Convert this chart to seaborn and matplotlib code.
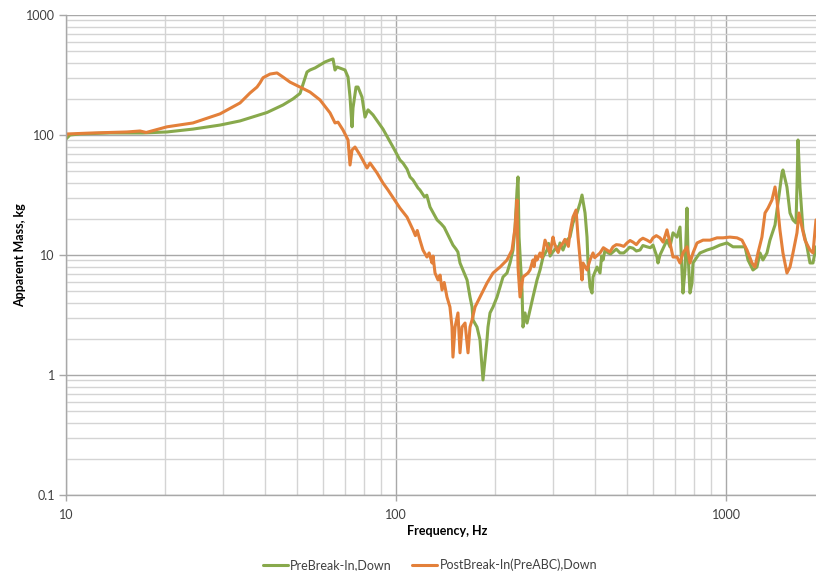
import numpy as np
import pandas as pd
import matplotlib
matplotlib.use("Agg")
import matplotlib.pyplot as plt
from matplotlib.ticker import LogLocator, FixedLocator, NullFormatter
import seaborn as sns

# Apparent mass measurements: frequency in Hz, mass in kg
pre_freq = [10.0, 10.28, 11.03, 13.59, 17.12, 20.23, 24.25, 29.29, 33.68, 36.11, 40.66, 45.46, 48.74, 51.19,
            53.74, 54.88, 56.83, 58.85, 60.94, 63.10, 64.44, 65.35, 66.27, 70.07, 71.55, 72.56, 73.58, 74.09,
            75.66, 76.71, 78.89, 80.56, 82.27, 85.19, 91.32, 97.93,
            102.8, 105.0, 108.0, 110.3, 112.6, 116.6, 118.2, 122.0, 124.0, 126.8, 133.2, 137.0, 140.0,
            142.7, 148.8, 152.0, 154.0, 156.3, 164.2, 167.6, 170.0, 171.2, 176.0, 179.7, 182.3, 183.5,
            186.1, 188.7, 190.0, 192.7, 196.8, 202.4, 206.7, 211.0, 217.0, 221.6, 226.3, 229.5, 232.7,
            234.3, 236.0, 240.9, 242.6, 246.0, 249.5,
            254.7, 260.1, 267.5, 273.2, 279.0, 286.9, 290.0, 293.0, 297.0, 307.6, 310.0, 314.0, 320.7,
            329.7, 336.7, 343.8, 353.7, 361.2, 366.2,
            374.0, 379.2, 381.9, 387.2, 392.7, 395.4, 406.6, 415.2, 420.0, 424.0, 430.0, 439.0, 447.0,
            454.6, 465.0, 477.3, 490.0, 501.2, 510.0, 522.6, 535.0, 548.7, 560.0, 576.2, 590.0, 600.9,
            617.9, 622.2, 631.0, 662.5, 676.6, 690.9, 710.5, 725.5, 740.8, 751.2, 761.8, 767.1, 777.9,
            788.9, 794.3, 817.0, 834.3, 876.0, 913.4, 959.0, 1007,
            1050, 1103, 1142, 1166, 1207, 1241, 1268, 1294, 1331, 1359, 1408, 1437, 1478, 1488, 1530,
            1563, 1596, 1630, 1641, 1653, 1676, 1711, 1760, 1797, 1835, 1874]
pre_mass = [92.6, 100, 102, 104, 104, 106, 112, 121, 131, 139, 154, 178, 200, 222,
            335, 348, 362, 383, 406, 422, 430, 348, 369, 348, 304, 207, 117, 168,
            251, 251, 207, 141, 162, 147, 112, 79.4,
            61.9, 58.4, 52.0, 44.7, 42.2, 36.2, 34.8, 30.5, 31.5, 25.1, 19.6, 18.2, 17.0,
            15.3, 12.1, 11.2, 10.6, 8.58, 6.19, 4.47, 3.69, 2.87, 2.51, 1.96, 1.17, 0.909,
            1.33, 1.96, 2.51, 3.29, 3.69, 4.47, 5.41, 6.56, 7.08, 8.58, 11.0, 17.1, 34.8,
            44.7, 14.1, 5.11, 2.51, 3.29, 2.71,
            3.48, 4.47, 6.19, 7.50, 9.62, 11.0, 12.5, 9.8, 10.4, 11.7, 10.8, 12.6, 11.0,
            13.3, 14.1, 18.5, 22.4, 27.1, 31.6,
            22.4, 14.1, 8.58, 5.41, 4.82, 6.56, 7.94, 7.08, 9.8, 9.09, 11.0, 10.4, 10.2,
            10.6, 11.2, 10.4, 10.4, 11.0, 11.6, 11.4, 10.8, 11.0, 12.0, 11.7, 11.5, 12.1,
            9.62, 8.58, 10.0, 13.3, 11.7, 15.3, 14.1, 17.1, 4.82, 7.50, 24.6, 10.4, 4.82,
            5.84, 8.58, 9.62, 10.4, 11.0, 11.4, 12.1, 12.6,
            11.7, 11.7, 11.7, 9.09, 7.50, 7.94, 10.4, 9.09, 10.4, 13.3, 17.8, 27.1, 48.3, 51.1, 36.9,
            22.4, 19.6, 18.5, 36.9, 90.9, 36.9, 16.2, 11.7, 8.58, 8.58, 11.7]

post_freq = [10.0, 10.07, 12.07, 15.30, 16.76, 17.50, 20.23, 24.25, 29.29, 33.68, 36.11, 37.92, 38.72,
             39.54, 41.52, 43.60, 45.46, 47.73, 51.19, 54.88, 58.85,
             63.10, 65.35, 66.73, 69.10, 71.55, 72.56, 73.58, 75.13, 77.80, 81.69, 83.43, 87.60, 91.32, 94.58,
             102.8, 108.0, 112.6, 114.5, 116.0, 118.2, 120.7, 124.1, 126.0, 128.6, 129.5, 131.3, 134.1,
             136.0, 137.9, 140.0, 142.7, 145.7,
             147.8, 148.8, 151.0, 154.1, 156.3, 158.5, 161.9, 165.3, 167.6, 170.0, 173.6, 179.7, 188.7,
             196.8, 206.7, 217.0, 224.7, 229.5, 232.7, 234.3, 237.6, 242.6, 251.2, 254.7,
             260.1, 262.0, 265.0, 267.5, 273.2, 277.0, 282.9, 287.0, 292.9, 299.1, 302.0, 307.6, 310.0,
             314.0, 320.7, 325.0, 329.7, 333.0, 336.7, 343.8, 351.3, 356.2,
             366.2, 368.8, 379.2, 387.2, 395.4, 400.0, 415.2, 425.0, 435.9, 445.0, 454.6, 465.0, 477.3,
             490.0, 501.2, 512.0, 522.6, 535.0, 548.7, 560.0, 576.2, 590.0, 600.9, 615.0, 631.0, 645.0, 662.5,
             676.6, 690.9, 710.5, 725.5, 740.8, 761.8, 777.9, 794.3, 817.0, 851.9, 894.5, 939.2, 979.3,
             1028, 1080, 1118,
             1158, 1199, 1224, 1250, 1285, 1313, 1341, 1378, 1408, 1427, 1457, 1488, 1530, 1563, 1596,
             1641, 1664, 1699, 1735, 1797, 1835, 1874]
post_mass = [97.0, 102, 104, 106, 108, 105, 117, 126, 150, 185, 224, 251, 272,
             300, 322, 329, 304, 276, 251, 228, 196,
             153, 126, 128, 110, 91.0, 56.2, 75.0, 79.4, 68.1, 53.1, 58.4, 48.3, 39.8, 34.8,
             24.6, 20.7, 16.2, 14.5, 16.0, 13.3, 11.0, 9.62, 10.4, 8.58, 9.8, 7.08, 6.19,
             6.8, 5.11, 5.9, 4.47, 3.69,
             2.51, 1.41, 2.51, 3.29, 1.53, 2.51, 2.71, 1.53, 2.51, 2.87, 3.69, 4.47, 5.84,
             7.08, 7.94, 9.09, 11.0, 16.9, 28.7, 7.94, 4.47, 6.56, 7.08, 7.50,
             9.09, 8.0, 9.8, 9.09, 10.4, 9.5, 13.3, 12.0, 10.4, 14.1, 12.5, 11.0, 10.5,
             11.7, 12.6, 13.5, 12.6, 11.8, 15.3, 20.7, 23.7, 14.1,
             6.19, 8.58, 7.50, 9.09, 10.4, 9.5, 10.4, 11.5, 11.0, 10.6, 11.7, 12.2, 12.1,
             11.8, 12.6, 13.2, 12.8, 12.2, 13.3, 13.8, 13.3, 12.8, 13.9, 14.5, 13.9, 12.8, 16.2,
             12.6, 9.62, 9.62, 8.58, 10.4, 11.7, 8.58, 10.4, 12.6, 13.3, 13.3, 13.9, 13.9,
             14.1, 13.9, 13.3,
             11.0, 8.58, 7.94, 10.4, 14.1, 22.4, 24.6, 28.7, 36.9, 28.7, 16.2, 10.4, 7.08, 7.94, 10.4,
             15.3, 22.4, 17.1, 13.3, 11.0, 10.4, 19.6]

series_names = ["PreBreak-In,Down", "PostBreak-In(PreABC),Down"]
y_ticks = [0.1, 1, 10, 100, 1000]
y_tick_labels = ["0.1", "1", "10", "100", "1000"]
x_ticks = [10, 100, 1000]
x_tick_labels = ["10", "100", "1000"]

df = pd.concat([
    pd.DataFrame({"Frequency": pre_freq, "Mass": pre_mass, "Series": series_names[0]}),
    pd.DataFrame({"Frequency": post_freq, "Mass": post_mass, "Series": series_names[1]}),
], ignore_index=True)

sns.set_theme(style="white")
plt.rcParams["font.family"] = ["Lato", "DejaVu Sans"]

fig = plt.figure(figsize=(8.16, 5.71), dpi=100)
ax = fig.add_axes([66 / 816, 76 / 571, 750 / 816, 480 / 571])

palette = {series_names[0]: "#88A94C", series_names[1]: "#E3803A"}
sns.lineplot(data=df, x="Frequency", y="Mass", hue="Series", palette=palette,
             sort=False, estimator=None, linewidth=2.2, ax=ax, legend=False)

ax.set_xscale("log")
ax.set_yscale("log")
ax.set_xlim(10, 1874)
ax.set_ylim(0.1, 1000)

ax.yaxis.set_major_locator(FixedLocator(y_ticks))
ax.set_yticklabels(y_tick_labels)
ax.xaxis.set_major_locator(FixedLocator(x_ticks))
ax.set_xticklabels(x_tick_labels)
ax.xaxis.set_minor_locator(LogLocator(base=10, subs=np.arange(2, 10)))
ax.yaxis.set_minor_locator(LogLocator(base=10, subs=np.arange(2, 10)))
ax.xaxis.set_minor_formatter(NullFormatter())
ax.yaxis.set_minor_formatter(NullFormatter())

ax.grid(which="major", color="#A8A8A8", linewidth=1.0)
ax.grid(which="minor", color="#D4D4D4", linewidth=1.0)
ax.set_axisbelow(True)

for side in ["top", "right"]:
    ax.spines[side].set_visible(False)
for side in ["left", "bottom"]:
    ax.spines[side].set_color("#A8A8A8")
    ax.spines[side].set_linewidth(1.0)

ax.tick_params(axis="y", which="major", left=True, length=5, width=1,
               color="#A8A8A8", labelsize=9, labelcolor="#404040", pad=3)
ax.tick_params(axis="x", which="major", bottom=True, length=4, width=1,
               color="#A8A8A8", labelsize=9, labelcolor="#404040", pad=6)
ax.tick_params(which="minor", length=0)

ax.set_xlabel("Frequency, Hz", fontsize=9, fontweight="bold", color="#000000")
ax.set_ylabel("Apparent Mass, kg", fontsize=9, fontweight="bold", color="#000000")
ax.xaxis.set_label_coords(0.508, -0.062)
ax.yaxis.set_label_coords(-0.053, 0.5)

handles = [plt.Line2D([], [], color=palette[n], linewidth=2.2) for n in series_names]
fig.legend(handles, series_names, loc="center", bbox_to_anchor=(0.527, 0.0105),
           ncol=2, frameon=False, fontsize=9, handlelength=2.0, handletextpad=0.2,
           columnspacing=1.6, labelcolor="#404040")

fig.savefig("out.png", dpi=100)
